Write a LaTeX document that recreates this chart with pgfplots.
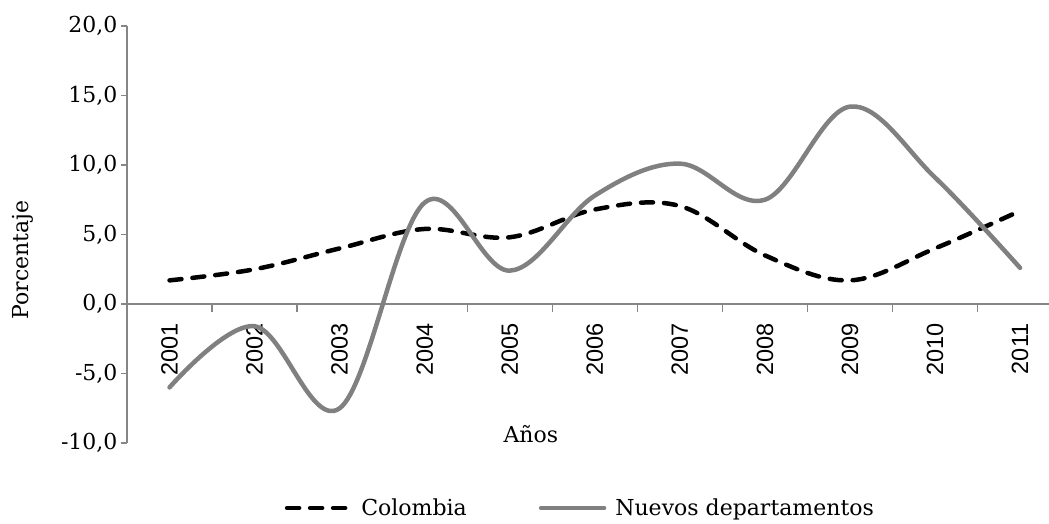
\documentclass[border=0pt]{standalone}
\usepackage{fontspec}
\setmainfont{DejaVu Serif}
\newfontfamily\yearfont{Liberation Sans}
\usepackage{pgfplots}
\pgfplotsset{compat=1.18}
\usetikzlibrary{calc}
\definecolor{axgray}{RGB}{134,134,134}
\definecolor{linegray}{RGB}{128,128,128}
\begin{document}
\begin{tikzpicture}
\begin{axis}[
  scale only axis, width=922pt, height=417pt,
  xmin=-0.5, xmax=10.34, ymin=-10, ymax=20,
  clip=false,
  axis x line*=middle, axis y line*=left,
  axis line style={axgray, line width=1.3pt},
  xtick={0,...,10},
  xticklabels={2001,2002,2003,2004,2005,2006,2007,2008,2009,2010,2011},
  minor xtick={-0.5,0.5,...,9.5},
  major x tick style={draw=none},
  minor x tick style={axgray, line width=1.3pt},
  minor tick length=8pt,
  ytick={-10,-5,...,20},
  ytick style={axgray, line width=1.3pt},
  major tick length=6pt,
  tick align=outside,
  xticklabel style={rotate=90, anchor=east, font=\yearfont\fontsize{23.5}{28}\selectfont},
  xticklabel shift=10pt,
  yticklabel style={font=\fontsize{22}{26}\selectfont, /pgf/number format/.cd, fixed, fixed zerofill, precision=1, use comma, assume math mode=true},
  xlabel={Años},
  xlabel style={at={(axis description cs:0.438,0.0216)}, anchor=center, font=\fontsize{22}{26}\selectfont},
  ylabel={Porcentaje},
  ylabel style={at={(axis description cs:-0.1128,0.439)}, anchor=center, rotate=0, font=\fontsize{22}{26}\selectfont},
  legend style={draw=none, fill=none, at={(axis description cs:0.171,-0.156)}, anchor=west,
    legend columns=2, font=\fontsize{22}{26}\selectfont, inner sep=0pt,
    /tikz/every even column/.append style={column sep=70pt}},
  legend image code/.code={\draw[#1] (0pt,0pt) -- (63pt,0pt); \path (70pt,0pt);},
]
\addplot[black, line width=4.5pt, line cap=round, dash pattern=on 12pt off 11pt, smooth, tension=0.6] coordinates {
 (0,1.7) (1,2.5) (2,4.0) (3,5.4) (4,4.8) (5,6.8) (6,7.05) (7,3.5) (8,1.7) (9,4.0) (10,6.7)};
\addlegendentry{Colombia}
\addplot[linegray, line width=4.5pt, line cap=round, smooth, tension=0.6] coordinates {
 (0,-6.0) (1,-1.6) (2,-7.5) (3,7.3) (4,2.4) (5,7.8) (6,10.1) (7,7.5) (8,14.2) (9,9.1) (10,2.6)};
\addlegendentry{Nuevos departamentos}
\end{axis}
\pgfresetboundingbox
\path[use as bounding box] ($(current axis.south west)+(-127pt,-80pt)$) rectangle ++(1049pt,523pt);
\end{tikzpicture}
\end{document}
